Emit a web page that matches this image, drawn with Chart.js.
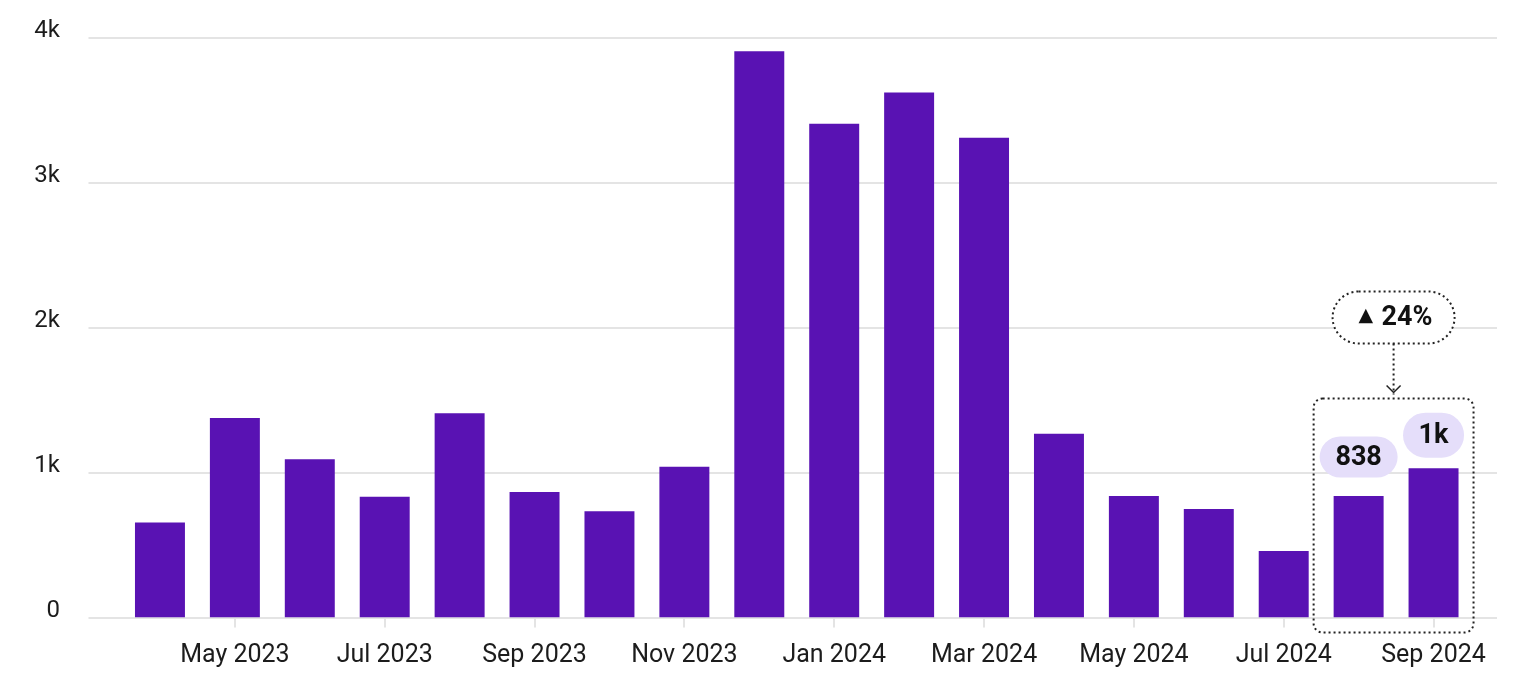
<!DOCTYPE html>
<html lang="en">
  <head>
    <meta charset="UTF-8" />
    <title>Monthly bars</title>
    <script src="https://cdn.jsdelivr.net/npm/chart.js@4.4.1/dist/chart.umd.min.js"></script>
    <style>
      html, body { margin: 0; padding: 0; background: #fff; }
    </style>
  </head>
  <body>
    <canvas id="chart" width="1519" height="674"></canvas>
    <script>
      // months shown on the x axis (only every other one gets a label)
      const months = ['Apr 2023', 'May 2023', 'Jun 2023', 'Jul 2023', 'Aug 2023', 'Sep 2023',
        'Oct 2023', 'Nov 2023', 'Dec 2023', 'Jan 2024', 'Feb 2024', 'Mar 2024',
        'Apr 2024', 'May 2024', 'Jun 2024', 'Jul 2024', 'Aug 2024', 'Sep 2024'];
      const counts = [656, 1376, 1091, 833, 1408, 866, 733, 1040, 3905, 3405, 3620, 3309,
        1268, 838, 748, 458, 838, 1030];
      const yTicks = [0, 1000, 2000, 3000, 4000];
      // highlighted last two months
      const highlightIdx = [16, 17];
      const highlightLabels = ['838', '1k'];
      const changeText = '24%';

      const purple = '#5912b3';
      const gridColor = '#e4e4e4';
      const textColor = '#1c1c1c';

      function fmtK(v) {
        return v === 0 ? '0' : (v / 1000) + 'k';
      }

      function pill(ctx, cx, cy, w, h, fill) {
        ctx.beginPath();
        ctx.roundRect(cx - w / 2, cy - h / 2, w, h, h / 2);
        ctx.fillStyle = fill;
        ctx.fill();
      }

      // long grid lines, wider than the bar area
      const gridPlugin = {
        id: 'wideGrid',
        beforeDatasetsDraw(chart) {
          const ctx = chart.ctx;
          const y = chart.scales.y;
          const area = chart.chartArea;
          ctx.save();
          ctx.strokeStyle = gridColor;
          ctx.lineWidth = 2;
          yTicks.forEach(v => {
            const py = Math.round(y.getPixelForValue(v));
            ctx.beginPath();
            ctx.moveTo(area.left - 34, py);
            ctx.lineTo(area.right + 26, py);
            ctx.stroke();
          });
          ctx.restore();
        }
      };

      // dotted box, change bubble and value pills
      const notePlugin = {
        id: 'notes',
        afterDatasetsDraw(chart) {
          const ctx = chart.ctx;
          const meta = chart.getDatasetMeta(0);
          const a = meta.data[highlightIdx[0]];
          const b = meta.data[highlightIdx[1]];
          const y0 = chart.scales.y.getPixelForValue(0);
          ctx.save();

          // dotted box round the two bars
          const left = a.x - 45, right = b.x + 40;
          const top = y0 - 219, bottom = y0 + 15;
          ctx.setLineDash([2, 3]);
          ctx.lineWidth = 2;
          ctx.strokeStyle = '#222';
          ctx.beginPath();
          ctx.roundRect(left, top, right - left, bottom - top, 9);
          ctx.stroke();

          // bubble with the change
          const cx = (left + right) / 2;
          const by = top - 81;
          ctx.beginPath();
          ctx.roundRect(cx - 61, by - 26, 122, 52, 26);
          ctx.fillStyle = '#fff';
          ctx.fill();
          ctx.stroke();

          // connector and arrow head
          ctx.beginPath();
          ctx.moveTo(cx, by + 26);
          ctx.lineTo(cx, top - 4);
          ctx.stroke();
          ctx.setLineDash([]);
          ctx.lineWidth = 1.5;
          ctx.beginPath();
          ctx.moveTo(cx - 7, top - 13);
          ctx.lineTo(cx, top - 6);
          ctx.lineTo(cx + 7, top - 13);
          ctx.stroke();

          ctx.fillStyle = '#111';
          ctx.textBaseline = 'middle';
          ctx.textAlign = 'left';
          ctx.font = '19px "DejaVu Sans"';
          ctx.fillText('\u25B2', cx - 35, by - 1);
          ctx.font = 'bold 27px Roboto';
          ctx.fillText(changeText, cx - 12, by + 1);

          // value pills
          const gaps = [39, 33];
          const widths = [78, 61];
          const heights = [41, 45];
          highlightIdx.forEach((idx, i) => {
            const bar = meta.data[idx];
            const py = bar.y - gaps[i];
            pill(ctx, bar.x, py, widths[i], heights[i], '#e5defa');
            ctx.fillStyle = '#111';
            ctx.textAlign = 'center';
            ctx.font = 'bold 27px Roboto';
            ctx.fillText(highlightLabels[i], bar.x, py + 1);
          });
          ctx.restore();
        }
      };

      new Chart(document.getElementById('chart'), {
        type: 'bar',
        data: {
          labels: months,
          datasets: [{
            data: counts,
            backgroundColor: purple,
            borderWidth: 0,
            barPercentage: 0.667,
            categoryPercentage: 1
          }]
        },
        options: {
          responsive: false,
          animation: false,
          layout: { padding: { top: 37.5, right: 48, left: 0, bottom: 0 } },
          plugins: { legend: { display: false }, tooltip: { enabled: false } },
          scales: {
            x: {
              afterFit(scale) { scale.height = 56.5; },
              border: { display: false },
              grid: {
                offset: false,
                drawOnChartArea: false,
                drawTicks: true,
                tickLength: 10,
                color: gridColor,
                lineWidth: 2
              },
              ticks: {
                autoSkip: false,
                maxRotation: 0,
                padding: 13,
                color: textColor,
                font: { family: 'Roboto', size: 25 },
                callback(v, i) { return i % 2 === 1 ? months[i] : null; }
              }
            },
            y: {
              min: 0,
              max: 4000,
              afterFit(scale) { scale.width = 122.5; },
              afterBuildTicks(scale) { scale.ticks = yTicks.map(v => ({ value: v })); },
              border: { display: false },
              // tick marks are hidden; their length only pushes the labels left
              grid: { display: false, drawTicks: true, tickLength: 60 },
              ticks: {
                padding: 2.5,
                labelOffset: -7,
                color: textColor,
                font: { family: 'Roboto', size: 24 },
                callback: v => fmtK(v)
              }
            }
          }
        },
        plugins: [gridPlugin, notePlugin]
      });
    </script>
  </body>
</html>
